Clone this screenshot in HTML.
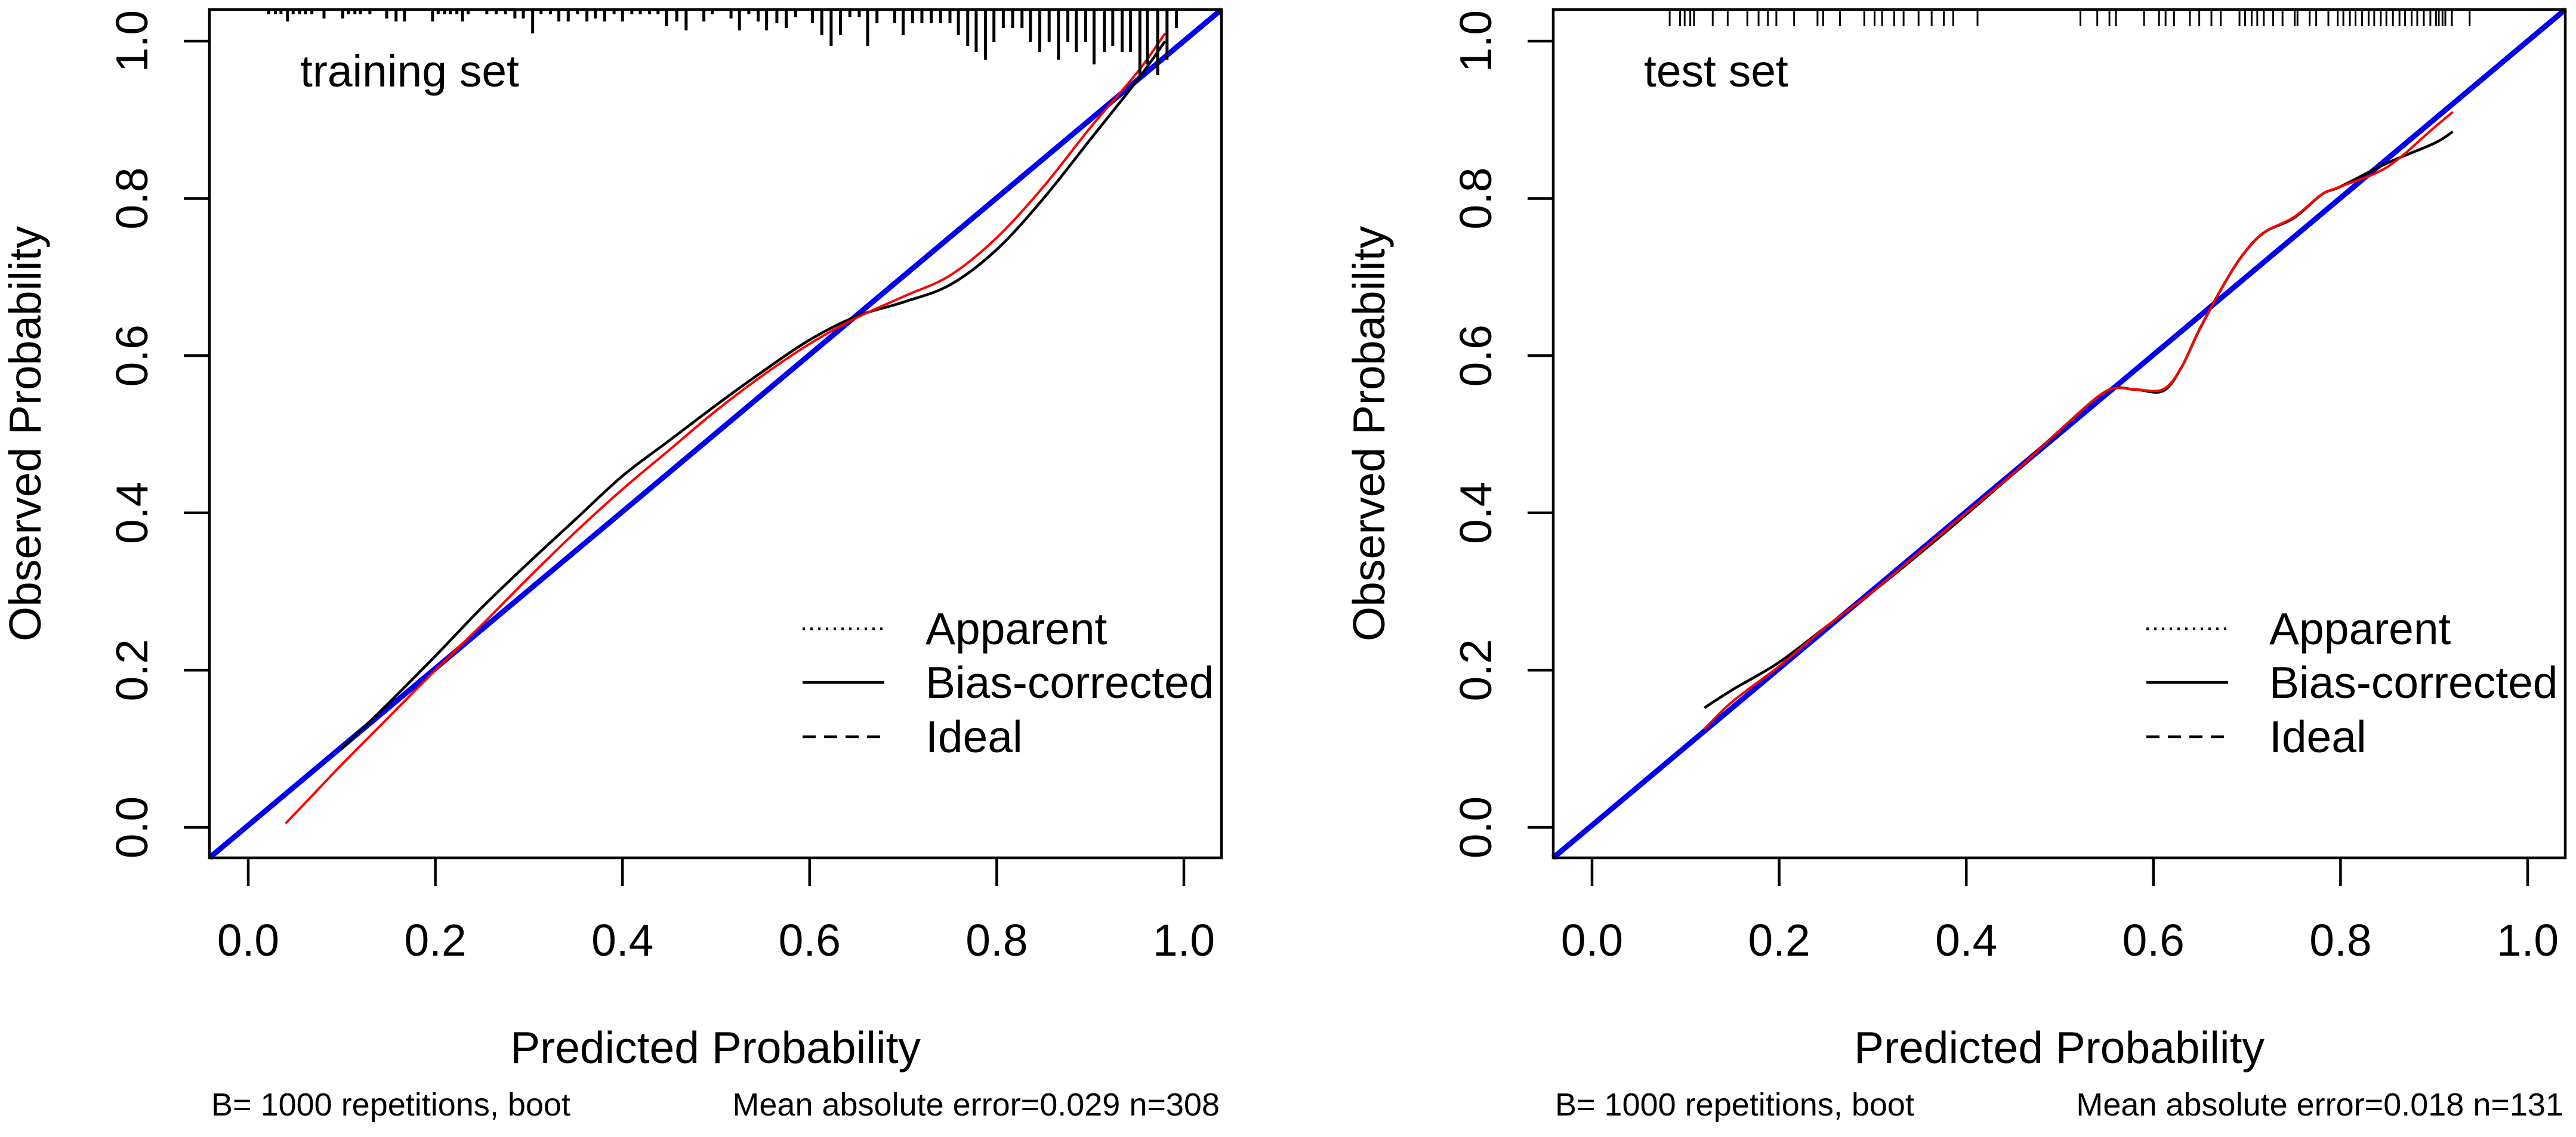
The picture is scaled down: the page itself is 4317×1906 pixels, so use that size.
<!DOCTYPE html>
<html><head><meta charset="utf-8"><style>
html,body{margin:0;padding:0;background:#fff;}
svg{display:block;font-family:"Liberation Sans",Arial,sans-serif;}
</style></head><body>
<svg id="fig" width="4317" height="1906" viewBox="0 0 4317 1906" xmlns="http://www.w3.org/2000/svg"></svg>
<script>
const ticks = [0, 0.2, 0.4, 0.6, 0.8, 1.0];
const tickLabels = ["0.0", "0.2", "0.4", "0.6", "0.8", "1.0"];

const trainX = [0.04,0.06,0.08,0.10,0.15,0.20,0.25,0.30,0.35,0.40,0.45,0.50,0.55,0.60,0.65,0.70,0.75,0.80,0.85,0.90,0.95,0.98];
const trainApparent = [0.005,0.03,0.055,0.08,0.14,0.20,0.258,0.318,0.376,0.43,0.48,0.53,0.575,0.615,0.648,0.675,0.702,0.75,0.815,0.89,0.96,1.01];
const trainBiasX = [0.10,0.15,0.20,0.25,0.30,0.35,0.40,0.45,0.50,0.55,0.60,0.65,0.70,0.75,0.80,0.85,0.90,0.95,0.98];
const trainBias = [0.10,0.158,0.218,0.28,0.337,0.392,0.447,0.492,0.537,0.58,0.62,0.65,0.668,0.69,0.735,0.80,0.875,0.95,1.0];
const trainRugX = [0.022,0.029,0.035,0.042,0.048,0.055,0.061,0.068,0.081,0.101,0.107,0.114,0.120,0.130,0.148,0.158,0.167,0.197,0.203,0.210,0.216,0.223,0.229,0.235,0.255,0.265,0.275,0.285,0.294,0.304,0.313,0.323,0.332,0.342,0.352,0.362,0.371,0.381,0.391,0.400,0.410,0.419,0.429,0.438,0.447,0.458,0.468,0.487,0.496,0.516,0.525,0.535,0.545,0.554,0.565,0.575,0.585,0.603,0.613,0.623,0.633,0.643,0.653,0.662,0.672,0.691,0.700,0.710,0.720,0.730,0.740,0.750,0.759,0.769,0.778,0.788,0.797,0.807,0.817,0.827,0.836,0.846,0.856,0.866,0.876,0.885,0.895,0.904,0.915,0.924,0.934,0.943,0.953,0.961,0.972,0.982,0.992];
const trainRugFreq = [8,8,8,20,8,8,8,8,15,15,8,8,8,8,15,20,20,20,8,8,8,8,20,8,8,8,8,15,15,40,8,8,20,20,8,20,15,20,8,20,8,8,8,8,28,20,35,20,8,15,35,8,20,35,23,31,13,23,43,61,43,13,13,61,23,23,43,23,23,23,23,23,43,61,71,84,54,31,31,31,54,71,54,84,54,71,54,92,71,61,71,71,115,92,110,84,31];

const testX = [0.12,0.15,0.2,0.25,0.3,0.35,0.4,0.45,0.5,0.55,0.58,0.61,0.63,0.65,0.68,0.7,0.72,0.75,0.78,0.8,0.85,0.9,0.92];
const testApparent = [0.125,0.16,0.205,0.255,0.30,0.35,0.40,0.45,0.505,0.555,0.557,0.557,0.585,0.635,0.70,0.735,0.758,0.776,0.805,0.815,0.84,0.89,0.91];
const testBias = [0.152,0.175,0.21,0.255,0.30,0.348,0.398,0.45,0.505,0.555,0.557,0.555,0.585,0.635,0.70,0.735,0.758,0.775,0.805,0.815,0.845,0.87,0.885];
const testRugX = [0.083,0.094,0.099,0.105,0.109,0.129,0.145,0.166,0.178,0.188,0.197,0.216,0.241,0.247,0.265,0.291,0.302,0.310,0.323,0.333,0.349,0.363,0.376,0.386,0.412,0.522,0.540,0.553,0.560,0.590,0.606,0.613,0.622,0.639,0.649,0.662,0.672,0.692,0.698,0.705,0.711,0.718,0.728,0.738,0.751,0.754,0.767,0.774,0.787,0.797,0.803,0.810,0.816,0.823,0.830,0.836,0.843,0.849,0.856,0.863,0.869,0.876,0.882,0.889,0.896,0.902,0.905,0.909,0.912,0.919,0.938];

const NS = "http://www.w3.org/2000/svg";
const svg = document.getElementById('fig');
function mk(tag, attrs, parent, text) {
  const e = document.createElementNS(NS, tag);
  for (const k in attrs) e.setAttribute(k, attrs[k]);
  if (text !== undefined) e.textContent = text;
  (parent || svg).appendChild(e);
  return e;
}
function smooth(pts) {
  let d = 'M' + pts[0][0].toFixed(1) + ',' + pts[0][1].toFixed(1);
  for (let i = 0; i < pts.length - 1; i++) {
    const p0 = pts[i - 1] || pts[i], p1 = pts[i], p2 = pts[i + 1], p3 = pts[i + 2] || p2;
    const c1x = p1[0] + (p2[0] - p0[0]) / 6, c1y = p1[1] + (p2[1] - p0[1]) / 6;
    const c2x = p2[0] - (p3[0] - p1[0]) / 6, c2y = p2[1] - (p3[1] - p1[1]) / 6;
    d += ` C${c1x.toFixed(1)},${c1y.toFixed(1)} ${c2x.toFixed(1)},${c2y.toFixed(1)} ${p2[0].toFixed(1)},${p2[1].toFixed(1)}`;
  }
  return d;
}

function panel(off, title, mae, n, appX, app, biasX, bias, rugX, rugFreq, name) {
  const g = mk('g', {});
  
  
  const L = 351 + off, R = 2047 + off, T = 16, B = 1438;
  const sx = v => 416 + off + v * 1568;
  const sy = v => 1387 - v * 1318;
  const ideal = mk('line', {x1: L, y1: B, x2: R, y2: T, stroke: '#0000ee', 'stroke-width': 9}, g);
  
  
  const blk = mk('path', {d: smooth(biasX.map((x, i) => [sx(x), sy(bias[i])])), fill: 'none', stroke: '#000', 'stroke-width': 4.5}, g);
  
  
  const red = mk('path', {d: smooth(appX.map((x, i) => [sx(x), sy(app[i])])), fill: 'none', stroke: '#ff0000', 'stroke-width': 4}, g);
  
  
  const rg = mk('g', {}, g);
  
  
  rugX.forEach((x, i) => {
    const len = rugFreq ? rugFreq[i] : 28;
    mk('line', {x1: sx(x), y1: T, x2: sx(x), y2: T + len, stroke: '#000', 'stroke-width': rugFreq ? 5 : 3}, rg);
  });
  const box = mk('rect', {x: L, y: T, width: R - L, height: B - T, fill: 'none', stroke: '#000', 'stroke-width': 4.5}, g);
  
  
  const xa = mk('g', {}, g);
  
  
  ticks.forEach((t, i) => {
    mk('line', {x1: sx(t), y1: B, x2: sx(t), y2: B + 47, stroke: '#000', 'stroke-width': 4.5}, xa);
    mk('text', {x: sx(t), y: 1602, 'font-size': 75, 'text-anchor': 'middle'}, xa, tickLabels[i]);
  });
  const ya = mk('g', {}, g);
  
  
  ticks.forEach((t, i) => {
    mk('line', {x1: L, y1: sy(t), x2: L - 43, y2: sy(t), stroke: '#000', 'stroke-width': 4.5}, ya);
    mk('text', {x: 247 + off, y: sy(t), 'font-size': 75, 'text-anchor': 'middle', transform: `rotate(-90 ${247 + off} ${sy(t)})`}, ya, tickLabels[i]);
  });
  const xt = mk('text', {x: (L + R) / 2, y: 1782, 'font-size': 75, 'text-anchor': 'middle'}, g, 'Predicted Probability');
  
  
  const yt = mk('text', {x: 68 + off, y: 727, 'font-size': 75, 'text-anchor': 'middle', transform: `rotate(-90 ${68 + off} 727)`}, g, 'Observed Probability');
  
  
  const tt = mk('text', {x: L + 152, y: 145, 'font-size': 75}, g, title);
  
  
  const s1 = mk('text', {x: L + 3, y: 1870, 'font-size': 54}, g, 'B= 1000 repetitions, boot');
  
  
  const s2 = mk('text', {x: R - 3, y: 1870, 'font-size': 54, 'text-anchor': 'end'}, g, 'Mean absolute error=' + mae + ' n=' + n);
  
  
  const lg = mk('g', {}, g);
  
  
  const items = [['Apparent', '4 9', 1054], ['Bias-corrected', '', 1144], ['Ideal', '22 14', 1235]];
  items.forEach(it => {
    const e = mk('g', {}, lg);
    
    
    const a = {x1: 1345 + off, y1: it[2], x2: 1482 + off, y2: it[2], stroke: '#000', 'stroke-width': 4.5};
    if (it[1]) a['stroke-dasharray'] = it[1];
    mk('line', a, e);
    mk('text', {x: 1551 + off, y: it[2] + 26, 'font-size': 75}, e, it[0]);
  });
}
panel(0, 'training set', '0.029', '308', trainX, trainApparent, trainBiasX, trainBias, trainRugX, trainRugFreq, 'training');
panel(2252, 'test set', '0.018', '131', testX, testApparent, testX, testBias, testRugX, null, 'test');
</script>
</body></html>
